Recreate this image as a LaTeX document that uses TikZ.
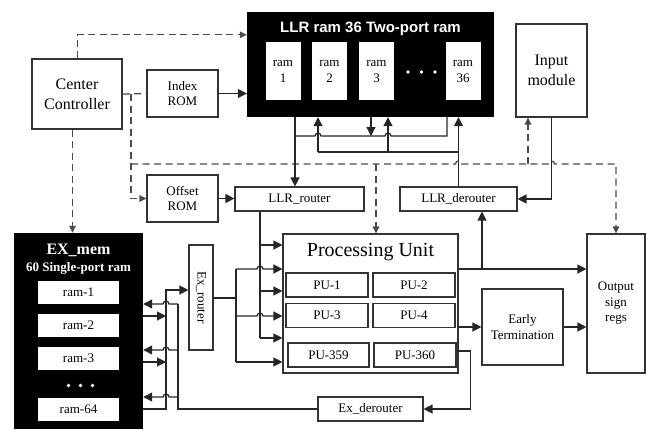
\documentclass[tikz,border=0pt]{standalone}
\usepackage{fontspec}
\setmainfont{Liberation Serif}
\newfontfamily\headfont{Liberation Sans}
\usetikzlibrary{arrows.meta}

\tikzset{
  box/.style={draw=black!80, line width=1.1pt, fill=white, inner sep=1pt, align=center,
    font=\fontsize{13}{15.5}\selectfont},
  rambox/.style={fill=white, inner sep=0pt, align=center, font=\fontsize{13}{16}\selectfont},
  blackbox/.style={fill=black, inner sep=0pt},
  wire/.style={draw=black!85, line width=1.2pt},
  arr/.style={wire, -{Triangle[length=9pt,width=9pt]}},
  ctl/.style={draw=black!70, line width=1.3pt, dash pattern=on 7pt off 4.5pt},
  ctlarr/.style={ctl, -{Triangle[length=7pt,width=6.5pt]}},
  hopr/.style={insert path={arc[start angle=180,end angle=0,radius=3pt]}},
  hopl/.style={insert path={arc[start angle=0,end angle=180,radius=3pt]}},
}

\begin{document}
\begin{tikzpicture}[x=1pt,y=-1pt]
\useasboundingbox (0,0) rectangle (654,429);

% controller and ROMs
\node[box, minimum width=90pt, minimum height=70pt, font=\fontsize{16}{20}\selectfont] (cc) at (77,94) {Center\\Controller};
\node[box, minimum width=71pt, minimum height=47pt] (idx) at (182.5,93.5) {Index\\ROM};
\node[box, minimum width=71pt, minimum height=47pt] (ofs) at (182.5,198.5) {Offset\\ROM};

% LLR memory
\node[blackbox, minimum width=247pt, minimum height=105pt] (llr) at (370.5,64.5) {};
\node[text=white, font=\headfont\bfseries\fontsize{15}{18}\selectfont] (llrt) at (370.5,29) {LLR ram 36 Two-port ram};
\foreach \n/\x in {1/283,2/329.5,3/376.5,36/463}
  \node[rambox, minimum width=35pt, minimum height=58pt] (ram\n) at (\x,71) {ram\\\n};
\foreach \x in {408,421.5,435}
  \fill[white] (\x,72) circle (1.8pt);

\node[box, minimum width=71pt, minimum height=93pt, font=\fontsize{16}{20}\selectfont] (inp) at (551.5,70.5) {Input\\module};
\node[box, minimum width=129pt, minimum height=24pt] (lrt) at (299.5,199) {LLR\_router};
\node[box, minimum width=117pt, minimum height=24pt] (lde) at (458.5,199) {LLR\_derouter};

% EX memory
\node[blackbox, minimum width=129pt, minimum height=196pt] (exm) at (78.5,331) {};
\node[text=white, font=\bfseries\fontsize{16}{19}\selectfont] (exmt) at (78.5,250) {EX\_mem};
\node[text=white, font=\bfseries\fontsize{13}{15}\selectfont] (exms) at (78.5,268.5) {60 Single-port ram};
\foreach \n/\y in {1/292,2/325.3,3/358,64/409}
  \node[rambox, minimum width=81pt, minimum height=23pt] (em\n) at (78.5,\y) {ram-\n};
\foreach \x in {68.5,80.5,92.5}
  \fill[white] (\x,385.5) circle (1.8pt);

\node[box, minimum width=24pt, minimum height=105pt] (exr) at (201,297.5) {};
\node[rotate=-90, font=\fontsize{13}{15}\selectfont] (exrt) at (exr.center) {Ex\_router};
\node[box, minimum width=105pt, minimum height=24pt] (exd) at (370.5,409) {Ex\_derouter};

% processing unit
\node[box, minimum width=175pt, minimum height=139pt] (pu) at (370.5,303.5) {};
\node[font=\fontsize{20}{24}\selectfont] (put) at (370.5,252.5) {Processing Unit};
\node[box, minimum width=82pt, minimum height=24pt] (pu1) at (327,285) {PU-1};
\node[box, minimum width=82pt, minimum height=24pt] (pu2) at (414,285) {PU-2};
\node[box, minimum width=82pt, minimum height=24pt] (pu3) at (327,315.7) {PU-3};
\node[box, minimum width=82pt, minimum height=24pt] (pu4) at (414,315.7) {PU-4};
\node[box, minimum width=81pt, minimum height=24pt] (pu359) at (328.5,355) {PU-359};
\node[box, minimum width=82pt, minimum height=24pt] (pu360) at (415,355) {PU-360};

\node[box, minimum width=81pt, minimum height=76pt] (et) at (522.5,327) {Early\\Termination};
\node[box, minimum width=58pt, minimum height=139pt] (osr) at (616,303.5) {Output\\sign\\regs};

% control lines
\coordinate (cj) at (131,94);
\coordinate (cbus) at (131,164);
\coordinate (pn) at (376,164);
\coordinate (ip) at (528,164);
\draw[ctlarr] ([xshift=0.3pt]cc.north) |- ([yshift=-23pt]llr.north west);
\draw[ctlarr] ([xshift=-4.5pt]cc.south) -- ([xshift=-4.5pt]cc.south |- exm.north);
\draw[ctl] (cc.east) -- (idx.west);
\draw[ctlarr] (cj) |- (ofs.west);
\draw[ctlarr] (cbus) -- ([xshift=-3pt]lde.north |- cbus) [hopr]
  -- ([xshift=-3pt]inp.south |- cbus) [hopr] -| (osr.north);
\draw[ctlarr] (pn) -- (pn |- pu.north);
\draw[ctlarr] (ip) -- (ip |- inp.south);

% LLR data paths
\coordinate (ra) at (295,136);
\coordinate (rb) at (447,136);
\coordinate (rc) at (371,136);
\coordinate (wa) at (318,152);
\coordinate (wb) at (388,152);
\draw[arr] (idx.east) -- (idx.east -| llr.west);
\draw[arr] (ofs.east) -- (ofs.east -| lrt.west);
\draw[arr] (llr.south -| ra) -- (lrt.north -| ra);
\draw[wire] (ra) -- ([xshift=-3pt]wa |- ra) [hopr] -- ([xshift=-3pt]wb |- ra) [hopr] -| (llr.south -| rb);
\draw[arr] (llr.south -| rc) -- (rc);
\draw[arr] (wa) -- (llr.south -| wa);
\draw[arr] (wb) -- (llr.south -| wb);
\draw[wire] (wa) -- (lde.north |- wa);
\draw[arr] (lde.north) -- (lde.north |- llr.south);
\draw[arr] (inp.south) |- (lde.east);

% router to PUs
\coordinate (lv) at (260,338);
\coordinate (ev) at (236,298);
\draw[wire] (lrt.south -| lv) -- (lv);
\foreach \y in {245,291,338}
  \draw[arr] (lv |- 0,\y) -- (pu.west |- 0,\y);
\draw[wire] (exr.east |- ev) -- (ev);
\draw[wire] (ev |- 0,269) -- (ev |- 0,362);
\foreach \y in {269,316}
  \draw[arr] (ev |- 0,\y) -- ([xshift=-3pt]lv |- 0,\y) [hopr] -- (pu.west |- 0,\y);
\draw[arr] (ev |- 0,362) -- (pu.west |- 0,362);

% EX memory paths
\coordinate (xv) at (166,290);
\coordinate (dv) at (178,304);
\draw[arr] (exm.east |- em64) -| (xv) -- (xv -| exr.west);
\foreach \y in {316,362}
  \draw[arr] (exm.east |- 0,\y) -- (xv |- 0,\y);
\draw[wire] (exd.west) -| (dv);
\foreach \y in {304,350,397}
  \draw[arr] (dv |- 0,\y) -- ([xshift=3pt]xv |- 0,\y) [hopl] -- (exm.east |- 0,\y);

% outputs
\coordinate (ov) at (482,269);
\draw[arr] (pu.east |- ov) -- (osr.west |- ov);
\draw[arr] (ov) -- (ov |- lde.south);
\draw[arr] (pu.east |- et.west) -- (et.west);
\draw[arr] (et.east) -- (et.east -| osr.west);
\draw[arr] ([yshift=4pt]pu360.east) -- ++(14,0) |- (exd.east);
\end{tikzpicture}
\end{document}
